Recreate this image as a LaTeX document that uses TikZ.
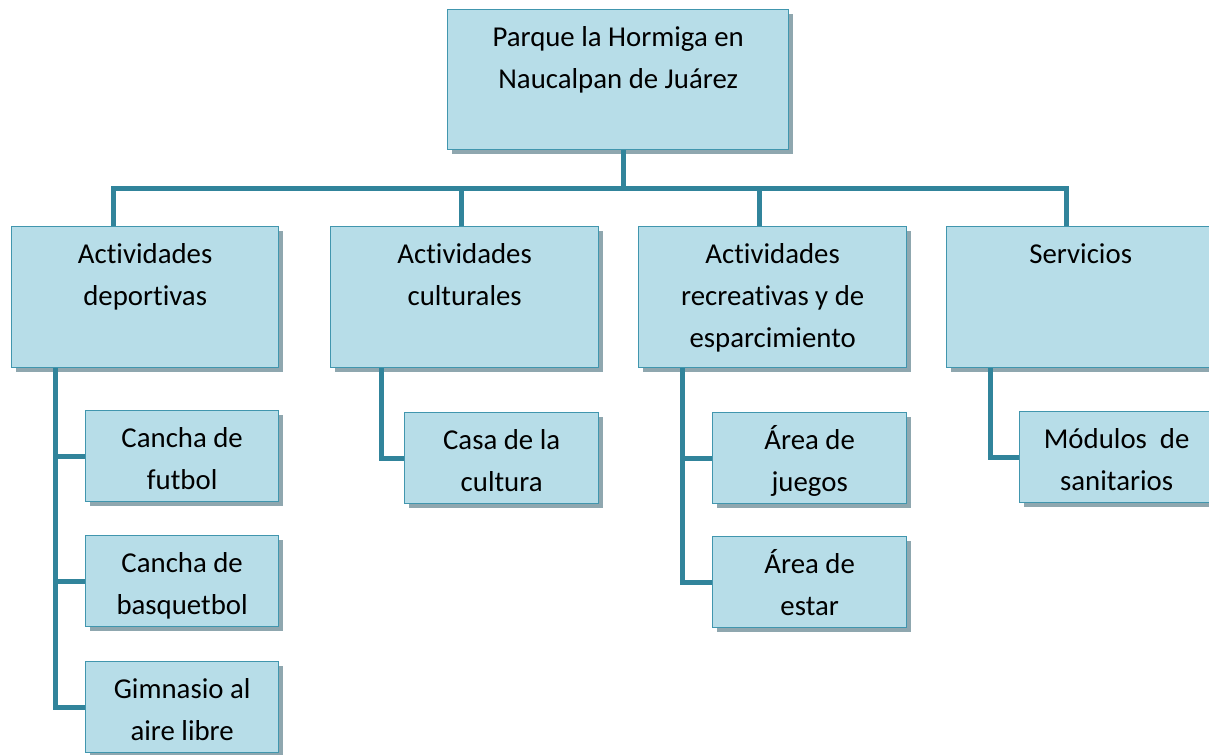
\documentclass[tikz,border=0pt]{standalone}
\usepackage{fontspec}
\setmainfont{Carlito}[Ligatures=NoCommon]
\usetikzlibrary{shadows}
\definecolor{relleno}{HTML}{B7DDE8}
\definecolor{borde}{HTML}{4196AE}
\definecolor{linea}{HTML}{31849B}
\definecolor{sombra}{HTML}{8FA7AF}
\def\px{0.75pt}
\def\caja(#1)(#2,#3)(#4,#5)#6{%
  \node[caja, minimum width=#4*\px, minimum height=#5*\px] (#1) at (#2,#3) {};
  \node[texto] (#1t) at (#1.north) {\strut#6};
}

\begin{document}
\begin{tikzpicture}[x=\px, y=\px,
  caja/.style={draw=borde, line width=1pt, fill=relleno, anchor=north west, inner sep=0,
    drop shadow={shadow xshift=4*\px, shadow yshift=-4*\px, fill=sombra, opacity=1}},
  texto/.style={anchor=north, align=center, inner sep=0, yshift=-8*\px,
    font=\fontsize{21.6}{31.5}\selectfont},
  conector/.style={draw=linea, line width=3.75pt}]
			%%%%% START %%%%%
			
			\useasboundingbox (0,0) rectangle (1209,-754);
			
			\caja(raiz)(447,-9)(341,140){Parque la Hormiga en\\Naucalpan de Juárez}
			
			\caja(dep)(11,-226)(267,141){Actividades\\deportivas}
			\caja(cul)(330,-226)(268,141){Actividades\\culturales}
			\caja(rec)(638,-226)(268,141){Actividades\\recreativas y de\\esparcimiento}
			\caja(ser)(946,-226)(268,141){Servicios}
			
			\caja(fut)(85,-410)(193,91){Cancha de\\futbol}
			\caja(bas)(85,-535)(193,91){Cancha de\\basquetbol}
			\caja(gim)(85,-661)(193,91){Gimnasio al\\aire libre}
			\caja(cas)(404,-412)(194,91){Casa de la\\cultura}
			\caja(jue)(712,-412)(194,91){Área de\\juegos}
			\caja(est)(712,-536)(194,91){Área de\\estar}
			\caja(mod)(1019,-411)(194,91){Módulos\ \ de\\sanitarios}
			
			\draw[conector] ([xshift=5*\px]raiz.south) -- ++(0,-39);
			\draw[conector] ([xshift=-32*\px]dep.north) -- ++(0,38) -| ([xshift=-14*\px]ser.north);
			\draw[conector] ([xshift=-3*\px]cul.north) -- ++(0,38);
			\draw[conector] ([xshift=-13*\px]rec.north) -- ++(0,38);
			
			\draw[conector] ([xshift=44*\px]dep.south west) |- (fut.west);
			\draw[conector] ([xshift=44*\px]dep.south west) |- (bas.west);
			\draw[conector] ([xshift=44*\px]dep.south west) |- (gim.west);
			\draw[conector] ([xshift=51*\px]cul.south west) |- (cas.west);
			\draw[conector] ([xshift=44*\px]rec.south west) |- (jue.west);
			\draw[conector] ([xshift=44*\px]rec.south west) |- (est.west);
			\draw[conector] ([xshift=44*\px]ser.south west) |- (mod.west);
			
			%%%%% END %%%%%
\end{tikzpicture}
\end{document}
